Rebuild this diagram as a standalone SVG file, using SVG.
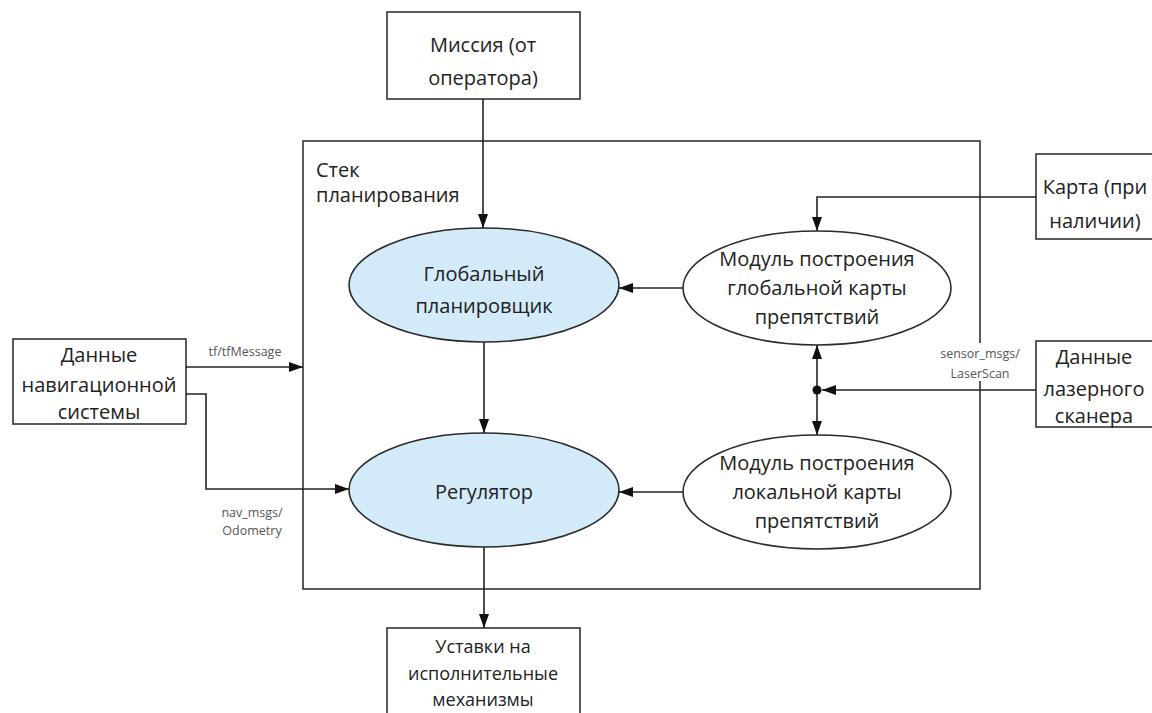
<svg xmlns="http://www.w3.org/2000/svg" width="1152" height="713" viewBox="0 0 1152 713">
<style>
.box{fill:#fff;stroke:#333;stroke-width:1.6}
.ell{fill:#d3ebf8;stroke:#2a2a2a;stroke-width:1.6}
.ellw{fill:#fff;stroke:#2a2a2a;stroke-width:1.6}
.t{font-family:"Open Sans","Liberation Sans",Arial,sans-serif;font-size:20px;fill:#222;text-anchor:middle}
.ts{font-size:18px}
.tl{font-family:"Open Sans","Liberation Sans",Arial,sans-serif;font-size:20px;fill:#222}
.lbl{font-family:"Open Sans","Liberation Sans",Arial,sans-serif;font-size:12.5px;fill:#555;text-anchor:middle}
.c{fill:none;stroke:#222;stroke-width:1.6}
</style>
<defs>
<marker id="ah" viewBox="0 0 14 10" refX="14" refY="5" markerWidth="14" markerHeight="10" markerUnits="userSpaceOnUse" orient="auto">
<path d="M0,0 L14,5 L0,10 Z" fill="#111"/>
</marker>
</defs>

<g id="stack">
<rect class="box" x="303" y="141" width="677" height="448"/>
<text class="tl" x="316" y="177">Стек</text>
<text class="tl" x="316" y="202">планирования</text>
</g>

<g id="mission">
<rect class="box" x="387" y="12" width="193" height="87"/>
<text class="t" x="483" y="52">Миссия (от</text>
<text class="t" x="483" y="85">оператора)</text>
</g>

<g id="global-planner">
<ellipse class="ell" cx="484" cy="285" rx="135" ry="57"/>
<text class="t" x="484" y="281">Глобальный</text>
<text class="t" x="484" y="313">планировщик</text>
</g>

<g id="regulator">
<ellipse class="ell" cx="484" cy="490" rx="135" ry="57"/>
<text class="t" x="484" y="499">Регулятор</text>
</g>

<g id="global-costmap">
<ellipse class="ellw" cx="817" cy="288" rx="134" ry="57"/>
<text class="t" x="817" y="266">Модуль построения</text>
<text class="t" x="817" y="295">глобальной карты</text>
<text class="t" x="817" y="324">препятствий</text>
</g>

<g id="local-costmap">
<ellipse class="ellw" cx="817" cy="492" rx="134" ry="57"/>
<text class="t" x="817" y="470">Модуль построения</text>
<text class="t" x="817" y="499">локальной карты</text>
<text class="t" x="817" y="528">препятствий</text>
</g>

<g id="map">
<rect class="box" x="1036" y="154" width="130" height="85"/>
<text class="t" x="1095" y="194">Карта (при</text>
<text class="t" x="1095" y="228">наличии)</text>
</g>

<g id="laser">
<rect class="box" x="1036" y="341" width="130" height="86"/>
<text class="t" x="1094" y="364">Данные</text>
<text class="t" x="1094" y="396">лазерного</text>
<text class="t" x="1094" y="423">сканера</text>
</g>

<g id="nav">
<rect class="box" x="13" y="339" width="173" height="85"/>
<text class="t" x="99" y="362">Данные</text>
<text class="t" x="99" y="392">навигационной</text>
<text class="t" x="99" y="419">системы</text>
</g>

<g id="output">
<rect class="box" x="387" y="628" width="193" height="100"/>
<text class="t ts" x="483" y="653">Уставки на</text>
<text class="t ts" x="483" y="680">исполнительные</text>
<text class="t ts" x="483" y="706">механизмы</text>
</g>

<g id="connectors">
<line class="c" x1="483" y1="99" x2="483" y2="228" marker-end="url(#ah)"/>
<line class="c" x1="484" y1="342" x2="484" y2="433" marker-end="url(#ah)"/>
<line class="c" x1="484" y1="547" x2="484" y2="628" marker-end="url(#ah)"/>
<line class="c" x1="683" y1="288" x2="619" y2="288" marker-end="url(#ah)"/>
<line class="c" x1="683" y1="492" x2="619" y2="492" marker-end="url(#ah)"/>
<polyline class="c" points="1036,197 817,197 817,231" marker-end="url(#ah)"/>
<line class="c" x1="1036" y1="390" x2="822" y2="390" marker-end="url(#ah)"/>
<line class="c" x1="817" y1="390" x2="817" y2="345" marker-end="url(#ah)"/>
<line class="c" x1="817" y1="390" x2="817" y2="435" marker-end="url(#ah)"/>
<circle cx="817" cy="390" r="4.5" fill="#111"/>
<line class="c" x1="186" y1="367" x2="303" y2="367" marker-end="url(#ah)"/>
<polyline class="c" points="186,394 206,394 206,489 349,489" marker-end="url(#ah)"/>
<rect x="933" y="343" width="94" height="38" fill="#fff"/>
<text class="lbl" x="980" y="358">sensor_msgs/</text>
<text class="lbl" x="980" y="378">LaserScan</text>
<text class="lbl" x="245" y="356">tf/tfMessage</text>
<rect x="210" y="503" width="84" height="36" fill="#fff"/>
<text class="lbl" x="252" y="517">nav_msgs/</text>
<text class="lbl" x="252" y="535">Odometry</text>
</g>
</svg>
